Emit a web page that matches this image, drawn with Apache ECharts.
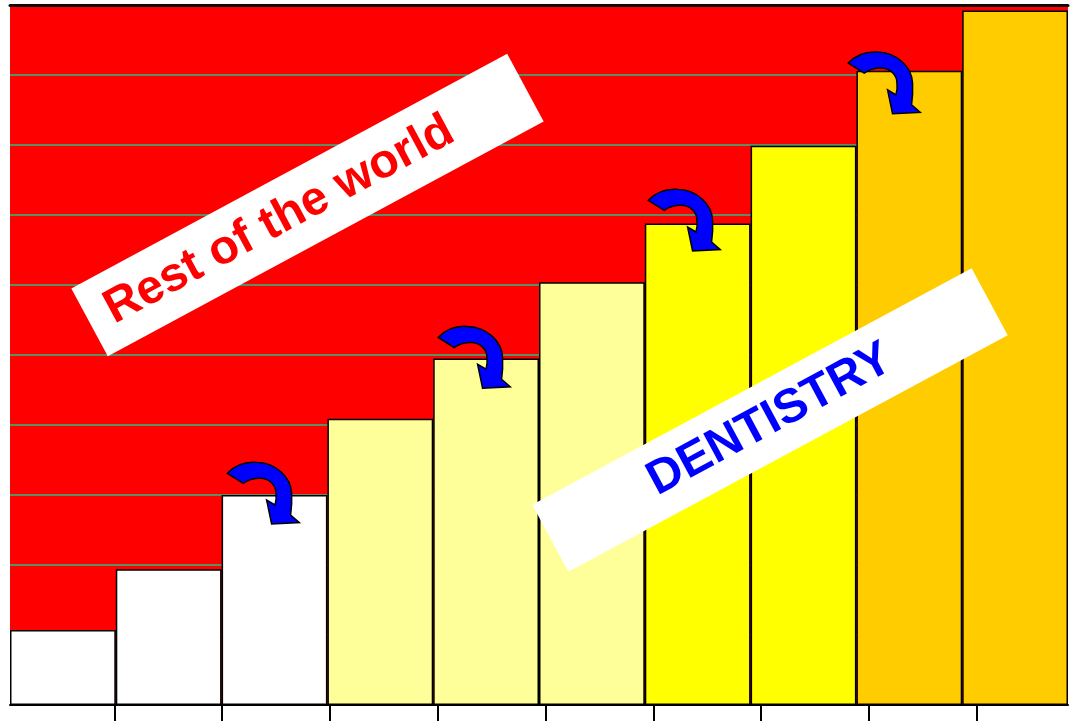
<!DOCTYPE html>
<html>
<head>
<meta charset="utf-8">
<script src="https://cdn.jsdelivr.net/npm/echarts@6/dist/echarts.min.js"></script>
<style>
  html, body { margin: 0; padding: 0; background: #ffffff; }
  #chart { width: 1072px; height: 721px; }
</style>
</head>
<body>
<div id="chart"></div>
<script>
// Ten steps, each one taking a larger share of the whole
const categories = ['Step 1', 'Step 2', 'Step 3', 'Step 4', 'Step 5',
                    'Step 6', 'Step 7', 'Step 8', 'Step 9', 'Step 10'];
const shares = [10.7, 19.4, 30.0, 40.9, 49.5, 60.4, 68.8, 79.9, 90.6, 99.2];
const barColors = ['#ffffff', '#ffffff', '#ffffff',
                   '#ffff99', '#ffff99', '#ffff99',
                   '#ffff00', '#ffff00',
                   '#ffcc00', '#ffcc00'];
// Curved arrows: anchor of each arrow tail as [position along steps, share]
const arrowAnchors = [[1.554, 33.1], [3.548, 52.5], [5.533, 72.1], [7.423, 91.7]];
const shareMin = 0;
const shareMax = 100;
const shareStep = 10;
// Tick marks under the baseline (their own, slightly wider, division)
const tickMarks = [1, 2, 3, 4, 5, 6, 7, 8, 9];
const tickSpan = 9.884;
const bannerLabels = ['Rest of the world', 'DENTISTRY'];

// Curved arrow outline, in pixels, relative to the tail's upper corner
const ARROW_PATH =
  'M16,10 L0,0 C7.7,-8.3 18.7,-11.8 29.3,-11 ' +
  'C48.7,-10.3 63.7,3.7 64.3,20 C64.7,27.7 64.2,35.7 63.3,41.7 ' +
  'L72,49.3 L44.3,50.7 L39.3,26.7 L47.7,31.7 ' +
  'C48.7,27.7 49.2,23.7 48.7,20 C48.7,11.7 41.7,5 32.7,5 ' +
  'C25.7,5 19.7,7.2 16,10 Z';

const tilt = 28.3 * Math.PI / 180;
function banner(cx, cy, w, h, text, color, shift) {
  return {
    type: 'group', x: cx, y: cy, rotation: tilt,
    children: [
      { type: 'rect', z: 200, shape: { x: -w / 2, y: -h / 2, width: w, height: h },
        style: { fill: '#ffffff' } },
      { type: 'text', z: 201, x: shift, y: 0,
        style: { text: text, fill: color,
                 font: 'bold 48px "Liberation Sans", Arial, sans-serif',
                 align: 'center', verticalAlign: 'middle' } }
    ]
  };
}

const chart = echarts.init(document.getElementById('chart'));
chart.setOption({
  animation: false,
  backgroundColor: '#ffffff',
  grid: [
    { left: 10, width: 1058, top: 5, bottom: 16, show: true,
      backgroundColor: '#ff0000', borderWidth: 0 },
    { left: 6.5, right: 0, top: 5, bottom: 16 }
  ],
  xAxis: [
    { type: 'category', gridIndex: 0, data: categories, boundaryGap: true,
      axisLine: { show: true, lineStyle: { color: '#000000', width: 2 } },
      axisTick: { show: false }, axisLabel: { show: false } },
    { type: 'value', gridIndex: 0, position: 'top', min: -0.5, max: 9.5,
      axisLine: { show: true, onZero: false, lineStyle: { color: '#140404', width: 3 } },
      axisTick: { show: false }, axisLabel: { show: false }, splitLine: { show: false } },
    { type: 'value', gridIndex: 1, min: 0, max: tickSpan,
      axisLine: { show: false, onZero: false },
      axisTick: { show: true, length: 16, inside: false, customValues: tickMarks,
                  lineStyle: { color: '#000000', width: 2 } },
      axisLabel: { show: false }, splitLine: { show: false } }
  ],
  yAxis: [
    { type: 'value', gridIndex: 0, min: shareMin, max: shareMax, interval: shareStep,
      axisLine: { show: false }, axisTick: { show: false }, axisLabel: { show: false },
      splitLine: { show: true, lineStyle: { color: '#5a9060', width: 2 } } },
    { type: 'value', gridIndex: 1, min: shareMin, max: shareMax, show: false }
  ],
  series: [
    {
      type: 'bar', xAxisIndex: 0, yAxisIndex: 0,
      barCategoryGap: '0%',
      data: shares.map(function (v, i) {
        return { value: v, itemStyle: { color: barColors[i] } };
      }),
      itemStyle: { borderColor: '#000000', borderWidth: 1.5 },
      silent: true
    },
    {
      type: 'custom', xAxisIndex: 1, yAxisIndex: 0, z: 10,
      data: arrowAnchors,
      renderItem: function (params, api) {
        const p = api.coord([api.value(0), api.value(1)]);
        return {
          type: 'path', x: p[0], y: p[1],
          shape: { pathData: ARROW_PATH },
          style: { fill: '#0000ff', stroke: '#000000', lineWidth: 1.5 }
        };
      },
      silent: true
    }
  ],
  graphic: [
    banner(307.5, 205, 495, 77, bannerLabels[0], '#ff0000', -32),
    banner(770, 420, 499, 76, bannerLabels[1], '#0000ff', 0)
  ]
});
</script>
</body>
</html>
